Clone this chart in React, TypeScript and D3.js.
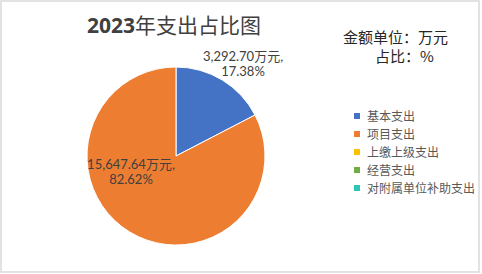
import React from "react";
import * as d3 from "d3";

const categories = ["基本支出", "项目支出", "上缴上级支出", "经营支出", "对附属单位补助支出"];
const values = [3292.7, 15647.64, 0, 0, 0];
const percents = ["17.38%", "82.62%", "0.00%", "0.00%", "0.00%"];
const colors = ["#4472C4", "#ED7D31", "#FFC000", "#70AD47", "#2EC4B6"];

const W = 482;
const H = 274;
const cx = 176;
const cy = 156;
const R = 89;

const labelFont = "Lato, 'Noto Sans CJK SC', sans-serif";
const cjkFont = "'Noto Sans CJK SC', sans-serif";

export default function App() {
  const pie = d3.pie<number>().sort(null).value((d) => d)(values);
  const arc = d3.arc<d3.PieArcDatum<number>>().innerRadius(0).outerRadius(R);
  const fmt = d3.format(",.2f");

  const labelPos: Record<number, [number, number]> = {
    0: [243, 61],
    1: [131, 169],
  };

  return (
    <svg
      width={W}
      height={H}
      style={{ position: "absolute", left: 0, top: 0, background: "#fff" }}
    >
      <rect x={1} y={1} width={478} height={271} fill="#fff" stroke="#d9d9d9" strokeWidth={1.5} />
      <text x={87} y={33} fontSize={21} fill="#404040" fontFamily={cjkFont}>
        <tspan fontWeight="bold" fontFamily="'Open Sans', 'Noto Sans CJK SC', sans-serif">2023</tspan>
        <tspan>年支出占比图</tspan>
      </text>
      <text x={343} y={43} fontSize={15} fill="#262626" fontFamily={cjkFont}>
        金额单位：万元
      </text>
      <text x={375} y={62} fontSize={15} fill="#262626" fontFamily={cjkFont}>
        占比：%
      </text>
      <g transform={`translate(${cx},${cy})`}>
        {pie.map((d, i) =>
          d.value > 0 ? (
            <path key={i} d={arc(d) || ""} fill={colors[i]} stroke="#fff" strokeWidth={1} />
          ) : null
        )}
      </g>
      {pie.map((d, i) => {
        if (!(d.value > 0)) return null;
        const [x, y] = labelPos[i];
        return (
          <text key={i} textAnchor="middle" fontSize={13} fill="#404040" fontFamily={labelFont}>
            <tspan x={x} y={y}>{fmt(values[i])}万元,</tspan>
            <tspan x={x} y={y + 15}>{percents[i]}</tspan>
          </text>
        );
      })}
      <g>
        {categories.map((c, i) => (
          <g key={c} transform={`translate(357,${116 + i * 18})`}>
            <rect x={-3} y={-3} width={6} height={6} fill={colors[i]} />
            <text x={10} y={4.5} fontSize={12} fill="#595959" fontFamily={cjkFont}>
              {c}
            </text>
          </g>
        ))}
      </g>
    </svg>
  );
}
